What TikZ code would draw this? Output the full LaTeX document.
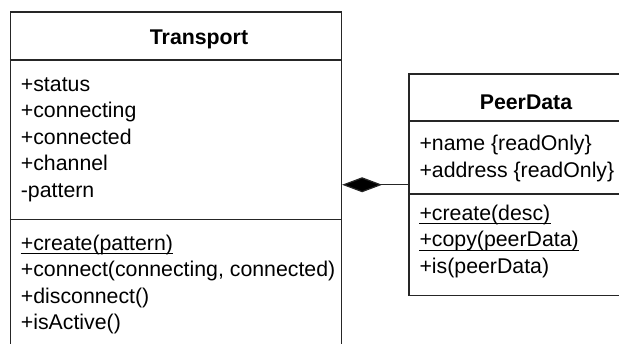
\documentclass[tikz,border=0pt]{standalone}
\usepackage{fontspec}
\setmainfont{Liberation Sans}
\usetikzlibrary{arrows.meta}
\tikzset{
  classbox/.style={draw=black!85, line width=1.2pt, fill=white, inner sep=0pt, rectangle},
  divider/.style={draw=black!85, line width=1.2pt},
  classname/.style={font=\fontsize{21.3}{25}\selectfont\bfseries, anchor=base, inner sep=0pt},
  member/.style={font=\fontsize{21.3}{25}\selectfont, anchor=mid west, inner sep=0pt},
  static/.style={append after command={
      ([yshift=-3.5pt]\tikzlastnode.base west) edge[draw=black, line width=1pt]
      ([yshift=-3.5pt]\tikzlastnode.base east)}},
  composition/.style={draw=black!85, line width=1.2pt,
      -{Diamond[length=40pt, width=15pt, fill=black]}}
}
\begin{document}
\begin{tikzpicture}[x=1pt, y=-1pt]
\useasboundingbox (0,0) rectangle (619,343);
\clip (0,0) rectangle (619,343);

% class frames
\node[classbox, minimum width=331pt, minimum height=347pt] (transport) at (176,185.5) {};
\node[classbox, minimum width=234pt, minimum height=221.5pt] (peerdata) at (526,184.75) {};

% compartment dividers
\draw[divider] (transport.west |- 0,60) -- (transport.east |- 0,60);
\draw[divider] (transport.west |- 0,219.5) -- (transport.east |- 0,219.5);
\draw[divider] (peerdata.west |- 0,121) -- (peerdata.east |- 0,121);
\draw[divider] (peerdata.west |- 0,194) -- (peerdata.east |- 0,194);

% class names
\node[classname] (transport-name) at (199,44.3) {Transport};
\node[classname] (peerdata-name) at (526,109.3) {PeerData};

% Transport attributes
\node[member] (t-status) at (20.7,88.8) {+status};
\node[member] (t-connecting) at (20.7,115.3) {+connecting};
\node[member] (t-connected) at (20.7,141.8) {+connected};
\node[member] (t-channel) at (20.7,168.3) {+channel};
\node[member] (t-pattern) at (20.7,194.8) {-pattern};

% Transport operations
\node[member, static] (t-create) at (20.7,247.5) {+create(pattern)};
\node[member] (t-connect) at (20.7,274) {+connect(connecting, connected)};
\node[member] (t-disconnect) at (20.7,300.5) {+disconnect()};
\node[member] (t-isactive) at (20.7,327) {+isActive()};

% PeerData attributes
\node[member] (p-name) at (419.3,147.5) {+name \{readOnly\}};
\node[member] (p-address) at (419.3,175) {+address \{readOnly\}};

% PeerData operations
\node[member, static] (p-create) at (419.3,217.5) {+create(desc)};
\node[member, static] (p-copy) at (419.3,244) {+copy(peerData)};
\node[member] (p-is) at (419.3,270.5) {+is(peerData)};

% composition: Transport owns PeerData
\draw[composition] (peerdata.west) -- (peerdata.west -| transport.east);
\end{tikzpicture}
\end{document}
